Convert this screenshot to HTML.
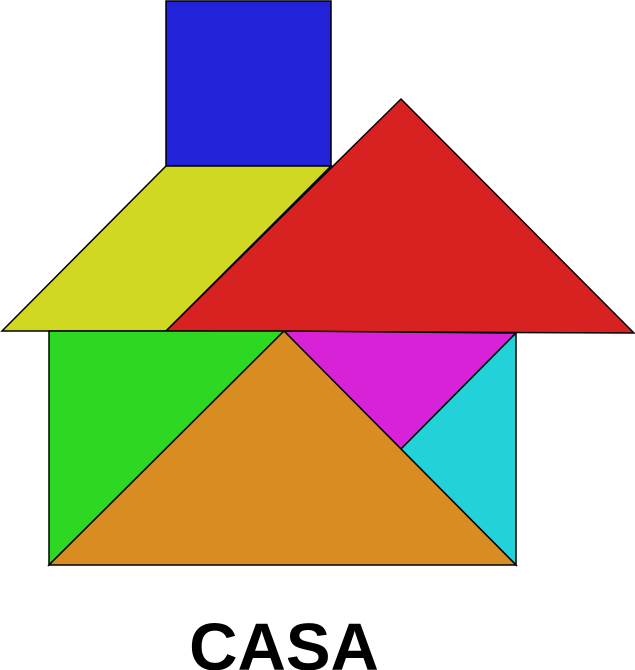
<!DOCTYPE html>
<html>
<head>
<meta charset="utf-8">
<style>
html,body{margin:0;padding:0;background:#fff;}
svg{display:block;}
</style>
</head>
<body>
<svg width="635" height="670" viewBox="0 0 635 670" xmlns="http://www.w3.org/2000/svg">
  <g stroke="#000" stroke-width="1.5" stroke-linejoin="miter">
    <polygon points="166,1 331,1 331,166 166,166" fill="#2222d8"/>
    <polygon points="166,166 331,166 166,331 2,331" fill="#d0d822"/>
    <polygon points="401,99 634,333 166,331" fill="#d82222"/>
    <polygon points="49,331 284,331 49,565" fill="#2ed822"/>
    <polygon points="284,331 516,333 401,449" fill="#d822d8"/>
    <polygon points="516,333 516,565 401,449" fill="#22d2d8"/>
    <polygon points="284,331 516,565 49,565" fill="#d88c22"/>
  </g>
  <text x="284" y="670" text-anchor="middle" font-family="Liberation Sans, sans-serif" font-weight="bold" font-size="67" fill="#000">CASA</text>
</svg>
</body>
</html>
